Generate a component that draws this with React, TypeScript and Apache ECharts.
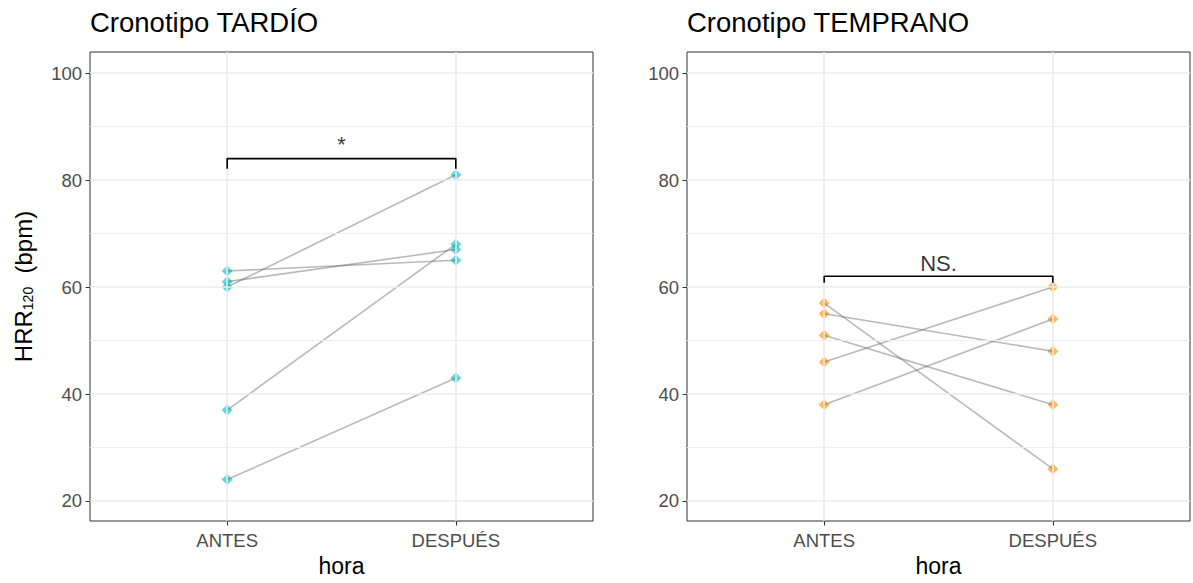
import React, { useEffect, useRef } from 'react';
import * as echarts from 'echarts';

// ---- data ----
const categories = ['ANTES', 'DESPUÉS'];
const yTicks = [20, 40, 60, 80, 100];
const yMinorTicks = [30, 50, 70, 90];
const tardioAntes = [63, 61, 60, 37, 24];
const tardioDespues = [65, 67, 81, 68, 43];
const tempranoAntes = [57, 55, 51, 46, 38];
const tempranoDespues = [26, 48, 38, 60, 54];
const panelTitles = ['Cronotipo TARDÍO', 'Cronotipo TEMPRANO'];
const sigLabels = ['*', 'NS.'];
const sigHeights = [84, 62];
const sigTipEnds = [82.1, 60.8];

const FONT = '"Liberation Sans", Helvetica, Arial, sans-serif';
const pointColors = ['rgba(0,191,196,0.78)', 'rgba(255,145,0,0.78)'];

const panels = [
  { antes: tardioAntes, despues: tardioDespues },
  { antes: tempranoAntes, despues: tempranoDespues },
];

const gridLefts = [90, 687];

export default function App() {
  const ref = useRef<HTMLDivElement>(null);
  useEffect(() => {
    if (!ref.current) return;
    const chart = echarts.init(ref.current, undefined, { renderer: 'svg' });
    const catX = categories.map((_, i) => i + 1);

    const grid = gridLefts.map((l) => ({
      left: l,
      top: 52,
      width: 503,
      height: 469,
      show: true,
      borderColor: '#333333',
      borderWidth: 1,
      backgroundColor: '#ffffff',
      containLabel: false,
    }));

    const xAxis = gridLefts.map((_, i) => ({
      type: 'value',
      gridIndex: i,
      min: 0.4,
      max: 2.6,
      axisLine: { show: false },
      splitLine: { show: false },
      axisTick: {
        show: true,
        customValues: catX,
        length: 4.5,
        lineStyle: { color: '#333333', width: 1 },
      },
      axisLabel: {
        customValues: catX,
        formatter: (v: number) => categories[Math.round(v) - 1] ?? '',
        color: '#4D4D4D',
        fontSize: 18.5,
        fontFamily: FONT,
        margin: 10,
      },
      name: 'hora',
      nameLocation: 'middle',
      nameGap: 26,
      nameTextStyle: { color: '#000', fontSize: 23, fontFamily: FONT },
    }));

    const yAxis = gridLefts.map((_, i) => ({
      type: 'value',
      gridIndex: i,
      min: 16.26,
      max: 103.93,
      axisLine: { show: false },
      splitLine: { show: false },
      axisTick: {
        show: true,
        customValues: yTicks,
        length: 4.5,
        lineStyle: { color: '#333333', width: 1 },
      },
      axisLabel: {
        customValues: yTicks,
        color: '#4D4D4D',
        fontSize: 18.5,
        fontFamily: FONT,
        margin: 8,
      },
      name: i === 0 ? '{a|HRR}{b|120}{a|  (bpm)}' : '',
      nameLocation: 'middle',
      nameGap: 55,
      nameTextStyle: {
        color: '#000',
        fontFamily: FONT,
        rich: {
          a: { fontSize: 24, color: '#000', fontFamily: FONT },
          b: { fontSize: 14, color: '#000', fontFamily: FONT, padding: [10, 0, 0, 0] },
        },
      },
    }));

    const series: any[] = [];
    panels.forEach((p, i) => {
      // background grid lines
      series.push({
        type: 'line',
        xAxisIndex: i,
        yAxisIndex: i,
        data: [],
        z: 1,
        markLine: {
          silent: true,
          symbol: 'none',
          animation: false,
          label: { show: false },
          lineStyle: { color: '#EBEBEB', type: 'solid', width: 1.6 },
          data: [
            ...yMinorTicks.map((v) => ({ yAxis: v, lineStyle: { width: 1.1, color: '#EFEFEF', type: 'solid' } })),
            ...yTicks.map((v) => ({ yAxis: v })),
            ...catX.map((v) => ({ xAxis: v })),
          ],
        },
      });
      // points
      series.push({
        type: 'scatter',
        xAxisIndex: i,
        yAxisIndex: i,
        symbol: 'diamond',
        symbolSize: 11,
        z: 3,
        itemStyle: { color: pointColors[i] },
        data: [
          ...p.antes.map((v) => [catX[0], v]),
          ...p.despues.map((v) => [catX[1], v]),
        ],
      });
      // paired lines
      p.antes.forEach((a, j) => {
        series.push({
          type: 'line',
          xAxisIndex: i,
          yAxisIndex: i,
          symbol: 'none',
          z: 4,
          lineStyle: { color: 'rgba(100,100,100,0.45)', width: 1.6 },
          data: [
            [catX[0], a],
            [catX[1], p.despues[j]],
          ],
        });
      });
      // significance bracket
      series.push({
        type: 'line',
        xAxisIndex: i,
        yAxisIndex: i,
        symbol: 'none',
        z: 5,
        lineStyle: { color: '#000', width: 1.6 },
        data: [
          [catX[0], sigTipEnds[i]],
          [catX[0], sigHeights[i]],
          [catX[1], sigHeights[i]],
          [catX[1], sigTipEnds[i]],
        ],
      });
      series.push({
        type: 'scatter',
        xAxisIndex: i,
        yAxisIndex: i,
        symbolSize: 0,
        z: 5,
        silent: true,
        label: {
          show: true,
          position: 'top',
          distance: i === 0 ? 3 : 1.5,
          formatter: () => sigLabels[i],
          color: '#000',
          fontSize: 22,
          fontFamily: FONT,
        },
        data: [[(catX[0] + catX[1]) / 2, sigHeights[i]]],
      });
    });

    chart.setOption({
      animation: false,
      backgroundColor: '#ffffff',
      title: panelTitles.map((t, i) => ({
        text: t,
        left: gridLefts[i],
        top: 8,
        padding: 0,
        textStyle: { color: '#000', fontSize: 27.5, fontWeight: 'normal', fontFamily: FONT },
      })),
      grid,
      xAxis,
      yAxis,
      series,
    });
    return () => chart.dispose();
  }, []);

  return (
    <div
      ref={ref}
      style={{ position: 'fixed', left: 0, top: 0, width: 1193, height: 583, background: '#fff' }}
    />
  );
}
